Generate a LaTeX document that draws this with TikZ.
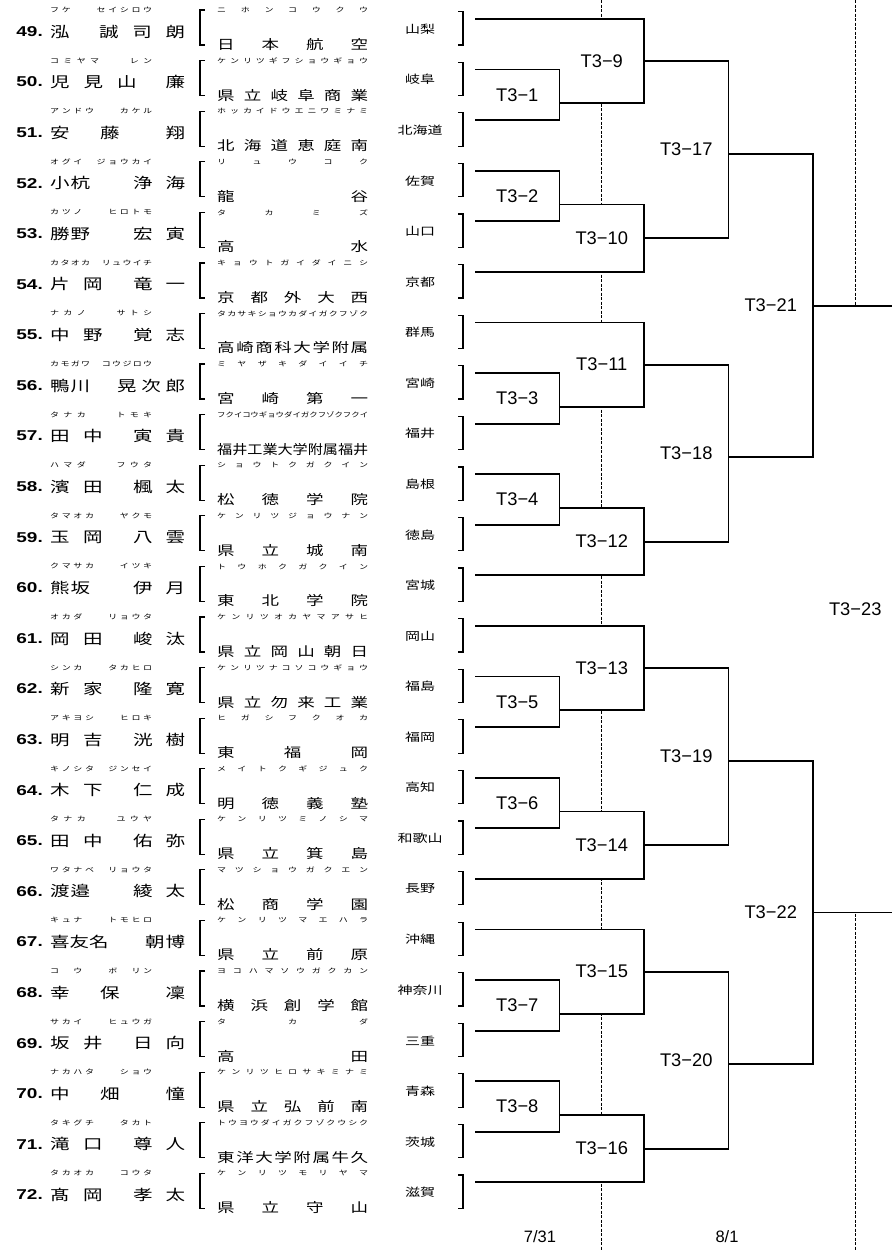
\documentclass[tikz,border=0pt]{standalone}
\usepackage{fontspec}
\setmainfont{Noto Sans CJK JP}
\newfontfamily\latinfont{Liberation Sans}
\usetikzlibrary{calc}

% squeezed text, as in the sheet
\newcommand\sq[1]{\scalebox{1}[0.75]{#1}}
% spread characters over a given width (* = empty slot), squeeze if too long
\makeatletter
\def\blankmark{*}
\newsavebox\sp@box
\def\sp@glue{\hskip 0pt plus 1fill\relax}
\newcommand\spread[2]{\edef\sp@list{#2}\expandafter\sp@spread\expandafter{\sp@list}{#1}}
\def\sp@items#1#2{\let\sp@sep\relax
  \@tfor\sp@c:=#1\do{\sp@sep\ifx\sp@c\blankmark\phantom{ア}\else\sp@c\fi
    \def\sp@sep{#2}}}
\def\sp@spread#1#2{\sbox\sp@box{\sp@items{#1}{}}%
  \ifdim\wd\sp@box>#2\relax\resizebox{#2}{\height}{\usebox\sp@box}%
  \else\makebox[#2][s]{\sp@items{#1}{\sp@glue}}\fi}
\makeatother

\begin{document}
\begin{tikzpicture}[x=1pt,y=-1pt,
  num/.style={anchor=east,inner sep=0pt,font=\latinfont\bfseries\fontsize{19}{19}\selectfont},
  kana/.style={anchor=west,inner sep=0pt,font=\fontsize{9}{9}\selectfont},
  nm/.style={anchor=west,inner sep=0pt,font=\fontsize{19.5}{20}\selectfont},
  sch/.style={anchor=west,inner sep=0pt,font=\fontsize{17.5}{18}\selectfont},
  pref/.style={inner sep=0pt,font=\fontsize{15}{15}\selectfont},
  lbl/.style={inner sep=1pt,font=\latinfont\fontsize{18.3}{18.3}\selectfont},
  date/.style={inner sep=1pt,font=\latinfont\fontsize{16.5}{16.5}\selectfont},
  brk/.style={line width=1.2pt},
  bout/.style={line width=1.8pt},
  daydiv/.style={line width=1.2pt,dash pattern=on 3pt off 1.5pt}]
\useasboundingbox (0,0) rectangle (892,1250);
% columns and day dividers
\coordinate (c1) at (559.5,0); \coordinate (c2) at (644,0);
\coordinate (c3) at (728.5,0); \coordinate (c4) at (813,0);
\coordinate (edge) at (892,0);
\coordinate (d1) at (601.75,0); \coordinate (d1b) at (601.75,1250);
\coordinate (d2) at (855.25,0); \coordinate (d2b) at (855.25,1250);
\draw[daydiv] (d1) -- (d1b);
\draw[daydiv] (d2) -- (d2b);
% entries
\foreach \n/\rb/\fa/\wf/\gi/\wg/\sr/\sc/\pf in {
  49/フケ**セイシロウ/泓/19.5/誠司朗/86/ニホンコウクウ/日本航空/山梨,
  50/コミヤマ**レン/児見山/86.5/廉/19.5/ケンリツギフショウギョウ/県立岐阜商業/岐阜,
  51/アンドウ**カケル/安藤/69.5/翔/19.5/ホッカイドウエニワミナミ/北海道恵庭南/北海道,
  52/オグイ*ジョウカイ/小杭/40/浄海/52/リュウコク/龍谷/佐賀,
  53/カツノ**ヒロトモ/勝野/40/宏寅/52/タカミズ/高水/山口,
  54/カタオカ*リュウイチ/片岡/52.5/竜一/52/キョウトガイダイニシ/京都外大西/京都,
  55/ナカノ**サトシ/中野/52.5/覚志/52/タカサキショウカダイガクフゾク/高崎商科大学附属/群馬,
  56/カモガワ*コウジロウ/鴨川/40/晃次郎/68/ミヤザキダイイチ/宮崎第一/宮崎,
  57/タナカ**トモキ/田中/52.5/寅貴/52/フクイコウギョウダイガクフゾクフクイ/福井工業大学附属福井/福井,
  58/ハマダ**フウタ/濱田/52.5/楓太/52/ショウトクガクイン/松徳学院/島根,
  59/タマオカ**ヤクモ/玉岡/52.5/八雲/52/ケンリツジョウナン/県立城南/徳島,
  60/クマサカ**イツキ/熊坂/40/伊月/52/トウホクガクイン/東北学院/宮城,
  61/オカダ**リョウタ/岡田/52.5/峻汰/52/ケンリツオカヤマアサヒ/県立岡山朝日/岡山,
  62/シンカ**タカヒロ/新家/52.5/隆寛/52/ケンリツナコソコウギョウ/県立勿来工業/福島,
  63/アキヨシ**ヒロキ/明吉/52.5/洸樹/52/ヒガシフクオカ/東福岡/福岡,
  64/キノシタ*ジンセイ/木下/52.5/仁成/52/メイトクギジュク/明徳義塾/高知,
  65/タナカ**ユウヤ/田中/52.5/佑弥/52/ケンリツミノシマ/県立箕島/和歌山,
  66/ワタナベ*リョウタ/渡邉/40/綾太/52/マツショウガクエン/松商学園/長野,
  67/キュナ**トモヒロ/喜友名/58.5/朝博/40/ケンリツマエハラ/県立前原/沖縄,
  68/コ*ウ**ボ*リン/幸保/69.5/凜/19.5/ヨコハマソウガクカン/横浜創学館/神奈川,
  69/サカイ**ヒュウガ/坂井/52.5/日向/52/タカダ/高田/三重,
  70/ナカハタ**ショウ/中畑/69.5/憧/19.5/ケンリツヒロサキミナミ/県立弘前南/青森,
  71/タキグチ**タカト/滝口/52.5/尊人/52/トウヨウダイガクフゾクウシク/東洋大学附属牛久/茨城,
  72/タカオカ**コウタ/髙岡/52.5/孝太/52/ケンリツモリヤマ/県立守山/滋賀}{
  \pgfmathsetmacro\dy{(\n-49)*50.58}
  \coordinate (e\n) at (475,19+\dy);
  \node[num] (no\n) at (43,31.5+\dy) {\sq{\n.}};
  \node[kana] (nr\n) at (50,10+\dy) {\sq{\spread{102pt}{\rb}}};
  \node[nm] (nm\n) at (50,31.5+\dy)
    {\sq{\makebox[135pt][l]{\spread{\wf pt}{\fa}\hfill\spread{\wg pt}{\gi}}}};
  \sbox0{\fontsize{17.5}{18}\selectfont\sc}
  \ifdim\wd0>140pt \def\sx{207}\def\sw{163pt}\else\def\sx{217}\def\sw{151pt}\fi
  \node[kana] (sr\n) at (\sx,10+\dy) {\sq{\spread{\sw}{\sr}}};
  \node[sch] (sc\n) at (\sx,44.5+\dy) {\sq{\spread{\sw}{\sc}}};
  \node[pref] (pf\n) at (420,29+\dy) {\sq{\pf}};
  \draw[brk] (205,10+\dy) -- (200,10+\dy) -- (200,45+\dy) -- (205,45+\dy);
  \draw[brk] (458,11.7+\dy) -- (463,11.7+\dy) -- (463,45+\dy) -- (458,45+\dy);
}
% first round
\foreach \m/\a/\b in {1/50/51,2/52/53,3/56/57,4/58/59,5/62/63,6/64/65,7/68/69,8/70/71}{
  \coordinate (m\m) at ($(e\a -| c1)+(0,33.72)$);
  \draw[bout] (e\a) -| (e\b -| c1) -- (e\b);
  \node[lbl] (t\m) at ($(e\a)!.5!(e\b -| c1)$) {T3−\m};
}
% second round (7/31), dividers blanked inside the brackets
\foreach \m/\a/\b/\k in {9/e49/m1/5,10/m2/e54/26,11/e55/m3/41,12/m4/e60/62,
    13/e61/m5/77,14/m6/e66/98,15/e67/m7/113,16/m8/e72/134}{
  \coordinate (m\m) at (644,19+8.43*\k);
  \fill[white] ($(\a -| d1)+(-3,0)$) rectangle ($(\b -| d1)+(3,0)$);
  \draw[bout] (\a) -| (\b -| c2) -- (\b);
  \node[lbl] (t\m) at (d1 |- m\m) {T3−\m};
}
% third round
\foreach \m/\a/\b/\k in {17/m9/m10/16,18/m11/m12/52,19/m13/m14/88,20/m15/m16/124}{
  \coordinate (m\m) at (728.5,19+8.43*\k);
  \draw[bout] (\a) -| (\b -| c3) -- (\b);
  \node[lbl] (t\m) at ($(\a)!.5!(\b -| c3)$) {T3−\m};
}
% fourth round
\foreach \m/\a/\b/\k in {21/m17/m18/34,22/m19/m20/106}{
  \coordinate (m\m) at (813,19+8.43*\k);
  \draw[bout] (\a) -| (\b -| c4) -- (\b);
  \node[lbl] (t\m) at ($(\a)!.5!(\b -| c4)$) {T3−\m};
}
% final
\fill[white] ($(m21 -| d2)+(-3,0)$) rectangle ($(m22 -| d2)+(3,0)$);
\draw[bout] (m21) -- (m21 -| edge);
\draw[bout] (m22) -- (m22 -| edge);
\node[lbl] (t23) at ($(m21 -| d2)!.5!(m22 -| d2)$) {T3−23};
% days
\node[date] (day1) at (540,1237) {7/31};
\node[date] (day2) at (727,1237) {8/1};
\end{tikzpicture}
\end{document}
